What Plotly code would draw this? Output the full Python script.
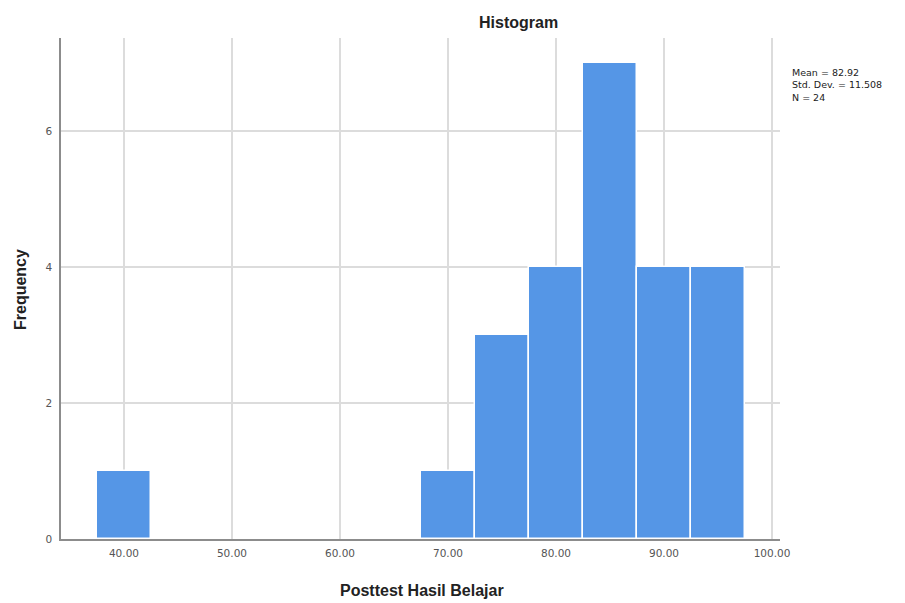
import plotly.graph_objects as go

bin_centers = [40, 70, 75, 80, 85, 90, 95]
frequencies = [1, 1, 3, 4, 7, 4, 4]
bin_width = 5
x_ticks = [40, 50, 60, 70, 80, 90, 100]
x_tick_labels = ["40.00", "50.00", "60.00", "70.00", "80.00", "90.00", "100.00"]
y_ticks = [0, 2, 4, 6]
stats_lines = ["Mean = 82.92", "Std. Dev. = 11.508", "N = 24"]

FONT = "Liberation Sans, Arial, sans-serif"
SMALL_FONT = "DejaVu Sans, Verdana, sans-serif"

fig = go.Figure()
fig.add_trace(go.Bar(
    x=bin_centers, y=frequencies, width=[bin_width] * len(bin_centers),
    marker=dict(color="#5596E6", line=dict(color="white", width=1.5)),
    hoverinfo="x+y",
))

fig.update_layout(
    width=897, height=595,
    margin=dict(l=53, r=125, t=30, b=64, autoexpand=False),
    plot_bgcolor="white", paper_bgcolor="white",
    showlegend=False,
    bargap=0,
    font=dict(family=FONT, color="#333"),
    xaxis=dict(
        range=[34.17, 100.74],
        tickvals=x_ticks, ticktext=x_tick_labels,
        showgrid=True, gridcolor="#dcdcdc", gridwidth=1.5,
        showline=True, linecolor="#8c8c8c", linewidth=1.5,
        zeroline=False, ticks="", ticklabelstandoff=4, automargin=False,
        tickfont=dict(size=10.5, color="#555", family=SMALL_FONT),
    ),
    yaxis=dict(
        range=[0, 7.37],
        tickvals=y_ticks,
        showgrid=True, gridcolor="#dcdcdc", gridwidth=1.5,
        showline=True, linecolor="#8c8c8c", linewidth=1.5,
        zeroline=False, ticks="", ticklabelstandoff=5, automargin=False,
        tickfont=dict(size=10.5, color="#555", family=SMALL_FONT),
    ),
)

# plot area spans x 61..780, y 38..539 in page pixels
def px_x(p):
    return (p - 61) / (780 - 61)

def px_y(p):
    return (539 - p) / (539 - 38)

fig.add_annotation(
    text="<b>Histogram</b>", xref="paper", yref="paper",
    x=px_x(518), y=px_y(22), xanchor="center", yanchor="middle",
    showarrow=False, font=dict(size=16, color="#222", family=FONT),
)
fig.add_annotation(
    text="<b>Posttest Hasil Belajar</b>", xref="paper", yref="paper",
    x=px_x(422), y=px_y(590), xanchor="center", yanchor="middle",
    showarrow=False, font=dict(size=16, color="#222", family=FONT),
)
fig.add_annotation(
    text="<b>Frequency</b>", xref="paper", yref="paper",
    x=px_x(20), y=px_y(290), xanchor="center", yanchor="middle", textangle=-90,
    showarrow=False, font=dict(size=16, color="#222", family=FONT),
)

fig.add_annotation(
    text="<br>".join(stats_lines), xref="paper", yref="paper",
    x=px_x(791), y=px_y(66), xanchor="left", yanchor="top",
    align="left", showarrow=False, borderpad=0,
    font=dict(size=9.5, color="#222", family=SMALL_FONT),
)

fig.write_html("out.html")
